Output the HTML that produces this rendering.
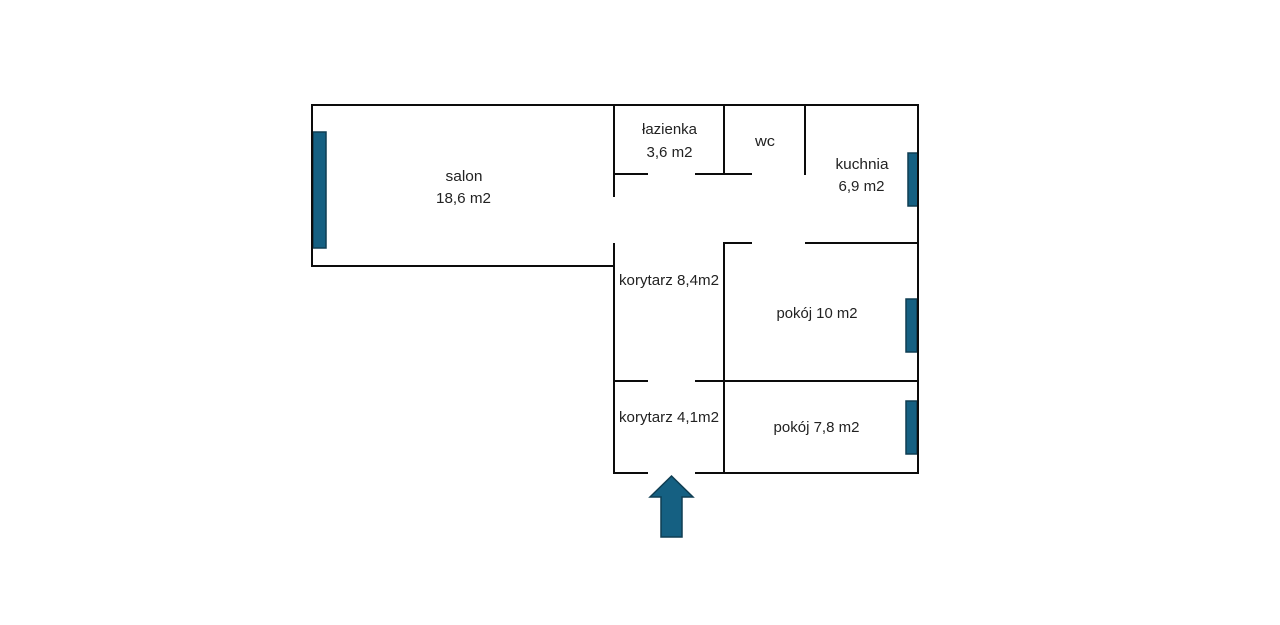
<!DOCTYPE html>
<html lang="pl">
<head>
<meta charset="utf-8">
<title>Plan mieszkania</title>
<style>
html,body{margin:0;padding:0;background:#fff;width:1280px;height:625px;overflow:hidden}
svg{display:block}
text{font-family:"Liberation Sans",sans-serif;font-size:14.5px;fill:#222}
.w{stroke:#0c0c0c;stroke-width:2;fill:none;stroke-linecap:square}
.b{fill:#156082;stroke:#0f3d52;stroke-width:1.5}
</style>
</head>
<body>
<svg width="1280" height="625" viewBox="0 0 1280 625" xmlns="http://www.w3.org/2000/svg">
<rect class="b" x="313" y="132" width="13" height="116"/>
<rect class="b" x="908" y="153" width="10" height="53"/>
<rect class="b" x="906" y="299" width="11" height="53"/>
<rect class="b" x="906" y="401" width="11" height="53"/>
<polygon class="b" points="671.5,476 693,497 682,497 682,537 661,537 661,497 650,497"/>

<path class="w" d="M614 196V105H312V266H614M614 105H918V473H696M647 473H614V244M724 105V173M805 105V174M615 174H647M696 174H751M724 381V473M724 243V381M724 243H751M806 243H918M615 381H647M696 381H918"/>

<text x="445.5" y="181" textLength="37" lengthAdjust="spacingAndGlyphs">salon</text>
<text x="436" y="203" textLength="55" lengthAdjust="spacingAndGlyphs">18,6 m2</text>
<text x="642" y="134" textLength="55" lengthAdjust="spacingAndGlyphs">łazienka</text>
<text x="646.5" y="157" textLength="46" lengthAdjust="spacingAndGlyphs">3,6 m2</text>
<text x="755" y="146" textLength="20" lengthAdjust="spacingAndGlyphs">wc</text>
<text x="835.5" y="169" textLength="53" lengthAdjust="spacingAndGlyphs">kuchnia</text>
<text x="838.5" y="191" textLength="46" lengthAdjust="spacingAndGlyphs">6,9 m2</text>
<text x="619" y="285" textLength="100" lengthAdjust="spacingAndGlyphs">korytarz 8,4m2</text>
<text x="776.5" y="318" textLength="81" lengthAdjust="spacingAndGlyphs">pokój 10 m2</text>
<text x="619" y="422" textLength="100" lengthAdjust="spacingAndGlyphs">korytarz 4,1m2</text>
<text x="773.5" y="432" textLength="86" lengthAdjust="spacingAndGlyphs">pokój 7,8 m2</text>
</svg>
</body>
</html>
